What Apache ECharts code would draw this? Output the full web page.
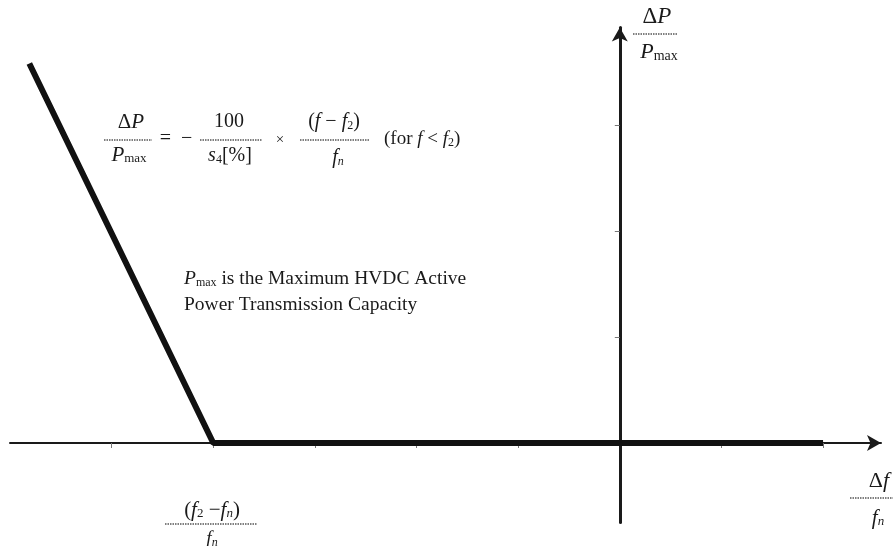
<!DOCTYPE html>
<html>
<head>
<meta charset="utf-8">
<script src="https://cdn.jsdelivr.net/npm/echarts@6/dist/echarts.min.js"></script>
<style>
  html, body { margin: 0; padding: 0; background: #fff; }
  #chart { width: 893px; height: 546px; }
</style>
</head>
<body>
<div id="chart"></div>
<script>
// droop characteristic, x = Δf/fn (grid units), y = ΔP/Pmax (grid units)
const droopX = [-5.81, -4, 2]
const droopY = [3.58, 0, 0]
const xTicks = [-5, -4, -3, -2, -1, 1, 2]
const yTicks = [1, 2, 3]

const serif = '"Liberation Serif", "DejaVu Serif", serif'
const ink = '#1a1a1a'

const chart = echarts.init(document.getElementById('chart'))

function txt(x, y, text, size, align) {
  const sub = Math.round(size * 0.62)
  const r = {
    i: { fontStyle: 'italic', fontFamily: serif, fontSize: size, fill: ink },
    n: { fontFamily: serif, fontSize: size, fill: ink },
    s: { fontFamily: serif, fontSize: sub, fill: ink, verticalAlign: 'bottom', padding: [Math.round(size * 0.4), 0, 0, 0] },
    si: { fontFamily: serif, fontStyle: 'italic', fontSize: sub, fill: ink, verticalAlign: 'bottom', padding: [Math.round(size * 0.4), 0, 0, 0] },
  }
  return {
    type: 'text', x: x, y: y, z: 10,
    style: {
      text: text, rich: r, fontFamily: serif, fontSize: size, fill: ink,
      align: align || 'center', verticalAlign: 'middle',
    },
  }
}

function bar(x1, x2, y) {
  return {
    type: 'line', z: 10,
    shape: { x1: x1, y1: y, x2: x2, y2: y },
    style: { stroke: '#555', lineWidth: 1.5, lineDash: [1.5, 1] },
  }
}

const graphics = [
  // formula
  txt(131, 122, '{n|Δ}{i|P}', 21),
  bar(104, 152, 140),
  txt(129, 155, '{i|P}{s|max}', 21),
  txt(176, 139, '{n|=  −}', 20),
  txt(229, 122, '{n|100}', 20),
  bar(200, 262, 140),
  txt(230, 156, '{i|s}{s|4}{n|[%]}', 20),
  txt(280, 140, '{n|×}', 15),
  txt(334, 122, '{n|(}{i|f} {n|−} {i|f}{s|2}{n|)}', 20),
  bar(300, 370, 140),
  txt(338, 158, '{i|f}{si|n}', 20),
  txt(384, 139, '{n|(for }{i|f}{n| < }{i|f}{s|2}{n|)}', 19, 'left'),
  // description
  txt(184, 279, '{i|P}{s|max}{n| is the Maximum HVDC Active}', 19.5, 'left'),
  txt(184, 305, '{n|Power Transmission Capacity}', 19.5, 'left'),
  // y axis name
  txt(657, 17, '{n|Δ}{i|P}', 23),
  bar(633, 678, 34),
  txt(659, 52, '{i|P}{s|max}', 22),
  // x axis name
  txt(879, 481, '{n|Δ}{i|f}', 22),
  bar(850, 893, 498),
  txt(878, 518, '{i|f}{si|n}', 21),
  // corner value
  txt(212, 510, '{n|(}{i|f}{s|2}{n| −}{i|f}{si|n}{n|)}', 21),
  bar(165, 257, 524),
  txt(212, 539, '{i|f}{si|n}', 19),
]

const option = {
  animation: false,
  backgroundColor: '#fff',
  grid: { left: 10, right: 12, top: 27.5, bottom: 23.5 },
  xAxis: {
    type: 'value',
    min: -6,
    max: 2.57,
    axisLine: {
      onZero: true,
      lineStyle: { color: ink, width: 2 },
      symbol: ['none', 'arrow'],
      symbolSize: [12, 14],
    },
    axisTick: { show: true, length: 5, customValues: xTicks, lineStyle: { color: '#777', width: 1 } },
    axisLabel: { show: false },
    splitLine: { show: false },
  },
  yAxis: {
    type: 'value',
    min: -0.75,
    max: 3.92,
    axisLine: {
      onZero: true,
      lineStyle: { color: ink, width: 3 },
      symbol: ['none', 'arrow'],
      symbolSize: [12, 14],
    },
    axisTick: { show: true, length: 5, customValues: yTicks, lineStyle: { color: '#777', width: 1 } },
    axisLabel: { show: false },
    splitLine: { show: false },
  },
  series: [
    {
      type: 'line',
      data: droopX.map((x, i) => [x, droopY[i]]),
      symbol: 'none',
      z: 5,
      lineStyle: { color: '#111', width: 6 },
    },
  ],
  graphic: graphics,
}

chart.setOption(option)
</script>
</body>
</html>
